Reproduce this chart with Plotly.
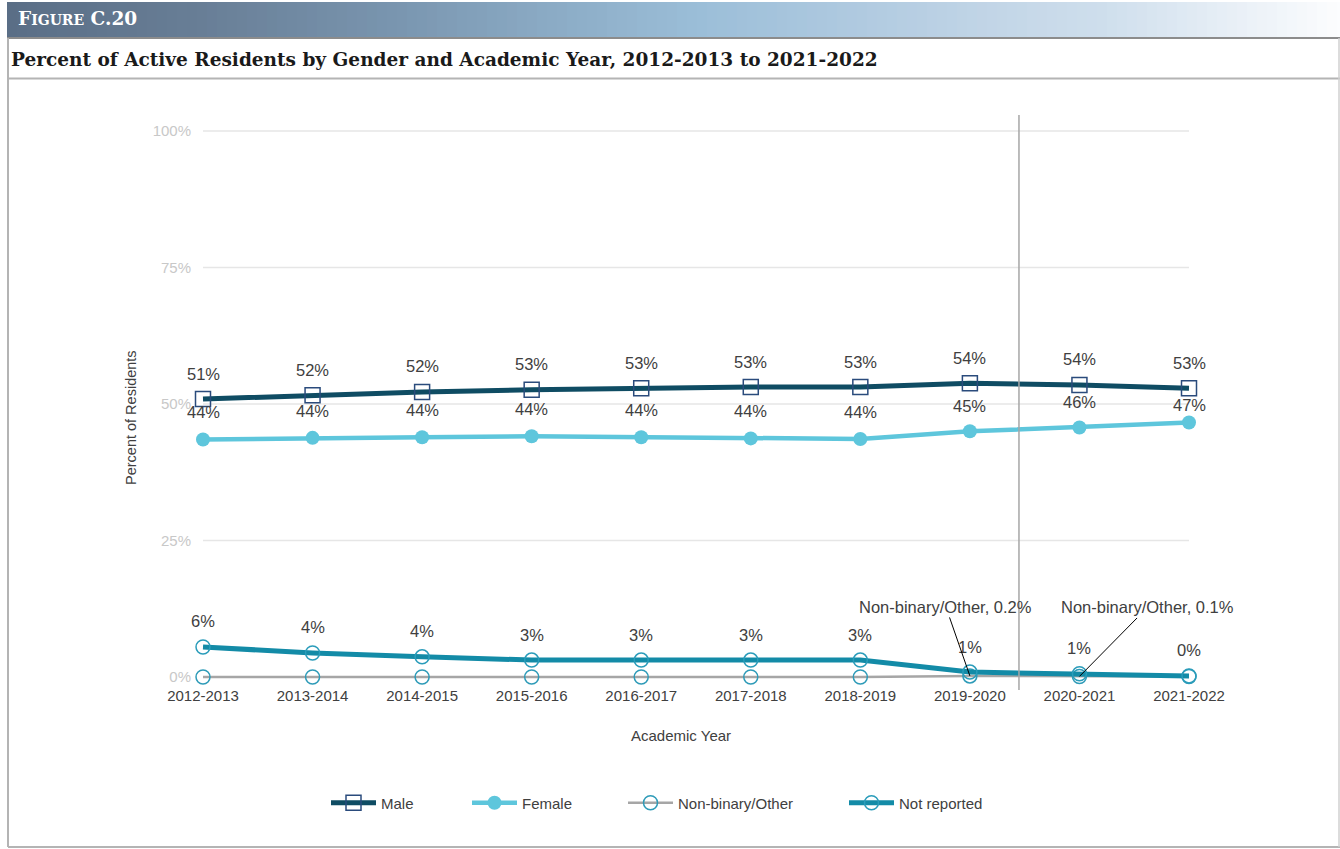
import plotly.graph_objects as go

# ---------------- data ----------------
years = ["2012-2013", "2013-2014", "2014-2015", "2015-2016", "2016-2017",
         "2017-2018", "2018-2019", "2019-2020", "2020-2021", "2021-2022"]
male = [50.9, 51.6, 52.2, 52.6, 52.9, 53.1, 53.1, 53.8, 53.5, 52.9]
female = [43.5, 43.8, 43.9, 44.1, 43.9, 43.7, 43.6, 45.0, 45.7, 46.6]
nonbinary = [0.0, 0.0, 0.0, 0.0, 0.0, 0.0, 0.0, 0.2, 0.1, 0.1]
not_reported = [5.5, 4.4, 3.7, 3.1, 3.1, 3.1, 3.1, 0.9, 0.6, 0.2]
y_ticks = [0, 25, 50, 75, 100]
y_tick_labels = ["0%", "25%", "50%", "75%", "100%"]

def pct(v):
    return f"{int(v + 0.5)}%"

# ---------------- geometry helpers ----------------
W, H = 1340, 849
L, R, T, B = 192, 140, 115, 164
PW, PH = W - L - R, H - T - B


def px(x):
    return (x - L) / PW


def py(y):
    return (H - B - y) / PH


TXT = "#404040"
FONT = "Liberation Sans, Arial, sans-serif"
SERIF = "DejaVu Serif, serif"

fig = go.Figure()

fig.add_trace(go.Scatter(
    x=years, y=male, name="Male", mode="lines+markers",
    line=dict(color="#0f4c63", width=5),
    marker=dict(symbol="square-open", size=15, color="#2a4b7c",
                line=dict(width=1.5, color="#2a4b7c")),
    cliponaxis=False, legend="legend"))
fig.add_trace(go.Scatter(
    x=years, y=female, name="Female", mode="lines+markers",
    line=dict(color="#5ec6dc", width=4.5),
    marker=dict(symbol="circle", size=14, color="#5ec6dc"),
    cliponaxis=False, legend="legend2"))
fig.add_trace(go.Scatter(
    x=years, y=nonbinary, name="Non-binary/Other", mode="lines+markers",
    line=dict(color="#a6a6a6", width=2.5),
    marker=dict(symbol="circle-open", size=14, color="#2e9bb8",
                line=dict(width=1.5, color="#2e9bb8")),
    cliponaxis=False, legend="legend3"))
fig.add_trace(go.Scatter(
    x=years, y=not_reported, name="Not reported", mode="lines+markers",
    line=dict(color="#138ba7", width=5),
    marker=dict(symbol="circle-open", size=14, color="#2a9cba",
                line=dict(width=1.5, color="#2a9cba")),
    cliponaxis=False, legend="legend4"))

annotations = []
# data labels
for i, yr in enumerate(years):
    annotations.append(dict(x=yr, y=male[i], xref="x", yref="y", text=pct(male[i]),
                            showarrow=False, yshift=25.5,
                            font=dict(family=FONT, size=16.5, color=TXT)))
female_shift = [27, 27, 27, 27, 27, 27, 27, 25, 25, 18]
for i, yr in enumerate(years):
    annotations.append(dict(x=yr, y=female[i], xref="x", yref="y", text=pct(female[i]),
                            showarrow=False, yshift=female_shift[i],
                            font=dict(family=FONT, size=16.5, color=TXT)))
for i, yr in enumerate(years):
    annotations.append(dict(x=yr, y=not_reported[i], xref="x", yref="y",
                            text=pct(not_reported[i]),
                            showarrow=False, yshift=25.5,
                            font=dict(family=FONT, size=16.5, color=TXT)))
# non-binary callouts
for idx, (axo, ayo) in [(7, (-24, -69)), (8, (68, -69))]:
    annotations.append(dict(x=years[idx], y=nonbinary[idx], xref="x", yref="y",
                            text=f"Non-binary/Other, {nonbinary[idx]:.1f}%",
                            showarrow=True, arrowhead=0, arrowwidth=1,
                            arrowcolor="#000000", ax=axo, ay=ayo,
                            font=dict(family=FONT, size=16.5, color=TXT)))
# axis titles
annotations.append(dict(x=px(681), y=py(746), xref="paper", yref="paper",
                        text="Academic Year", showarrow=False,
                        font=dict(family=FONT, size=15, color=TXT)))
annotations.append(dict(x=px(121), y=py(418), xref="paper", yref="paper",
                        text="Percent of Residents", showarrow=False, textangle=-90,
                        font=dict(family=FONT, size=14.5, color=TXT)))
# header texts
annotations.append(dict(x=px(16), y=py(19), xref="paper", yref="paper",
                        xanchor="left", yanchor="middle", showarrow=False,
                        text="<b>F<span style='font-size:14px'>IGURE</span> C.20</b>",
                        font=dict(family=SERIF, size=18.5, color="#ffffff")))
annotations.append(dict(x=px(9), y=py(60), xref="paper", yref="paper",
                        xanchor="left", yanchor="middle", showarrow=False,
                        text="<b>Percent of Active Residents by Gender and Academic Year, 2012-2013 to 2021-2022</b>",
                        font=dict(family=SERIF, size=18.5, color="#1a1a1a")))

shapes = []
# header gradient
stops = [(7, (90, 110, 134)), (200, (104, 126, 150)), (400, (122, 150, 176)),
         (560, (140, 172, 198)), (700, (155, 190, 216)), (860, (176, 202, 224)),
         (1000, (195, 214, 231)), (1100, (206, 222, 236)), (1200, (226, 235, 244)),
         (1340, (252, 253, 254))]


def grad(x):
    for (x0, c0), (x1, c1) in zip(stops[:-1], stops[1:]):
        if x0 <= x <= x1:
            t = (x - x0) / (x1 - x0)
            return tuple(int(round(a + (b - a) * t)) for a, b in zip(c0, c1))
    return stops[-1][1]


step = 10
xs = 7
while xs < W:
    xe = min(xs + step + 1, W)
    c = grad(xs + step / 2)
    shapes.append(dict(type="rect", xref="paper", yref="paper",
                       x0=px(xs), x1=px(xe), y0=py(37), y1=py(2),
                       fillcolor=f"rgb({c[0]},{c[1]},{c[2]})", line=dict(width=0),
                       layer="below"))
    xs += step
# frame lines
frame = "#b4b4b4"
shapes += [
    dict(type="line", xref="paper", yref="paper", x0=px(7), x1=px(W), y0=py(38), y1=py(38),
         line=dict(color="#8c8c8c", width=2)),
    dict(type="line", xref="paper", yref="paper", x0=px(8), x1=px(W), y0=py(78.5), y1=py(78.5),
         line=dict(color=frame, width=2)),
    dict(type="line", xref="paper", yref="paper", x0=px(8), x1=px(8), y0=py(38), y1=py(847),
         line=dict(color=frame, width=2)),
    dict(type="line", xref="paper", yref="paper", x0=px(8), x1=px(W), y0=py(847), y1=py(847),
         line=dict(color=frame, width=2)),
    dict(type="line", xref="paper", yref="paper", x0=px(1339), x1=px(1339), y0=py(38), y1=py(847),
         line=dict(color="#d0d0d0", width=1.5)),
]
# gridlines
for v in y_ticks[1:]:
    shapes.append(dict(type="line", xref="x", yref="y", x0=0, x1=len(years) - 1, y0=v, y1=v,
                       line=dict(color="#e6e6e6", width=1.5), layer="below"))
# vertical separator
shapes.append(dict(type="line", xref="x", yref="paper", x0=7.448, x1=7.448,
                   y0=py(690), y1=py(115), line=dict(color="#a6a6a6", width=1.5)))

legend_common = dict(orientation="h", yanchor="middle", xanchor="left", y=py(803),
                     font=dict(family=FONT, size=15, color=TXT), itemwidth=45,
                     bgcolor="rgba(0,0,0,0)", borderwidth=0)

fig.update_layout(
    width=W, height=H,
    margin=dict(l=L, r=R, t=T, b=B),
    paper_bgcolor="white", plot_bgcolor="white",
    font=dict(family=FONT, color=TXT),
    showlegend=True,
    legend=dict(x=px(326), **legend_common),
    legend2=dict(x=px(467), **legend_common),
    legend3=dict(x=px(623), **legend_common),
    legend4=dict(x=px(844), **legend_common),
    xaxis=dict(type="category", range=[-0.1004, 9.1004], showgrid=False, zeroline=False,
               showline=False, ticks="", tickfont=dict(family=FONT, size=15, color=TXT)),
    yaxis=dict(range=[-1.465, 102.93], tickmode="array", tickvals=y_ticks,
               ticktext=y_tick_labels, showgrid=False,
               zeroline=False, showline=False, ticks="",
               tickfont=dict(family=FONT, size=15, color="#c8c8c8")),
    annotations=annotations,
    shapes=shapes,
)

fig.write_html("out.html", config={"displayModeBar": False},
               post_script="document.body.style.margin='0px';document.body.style.overflow='hidden';")
